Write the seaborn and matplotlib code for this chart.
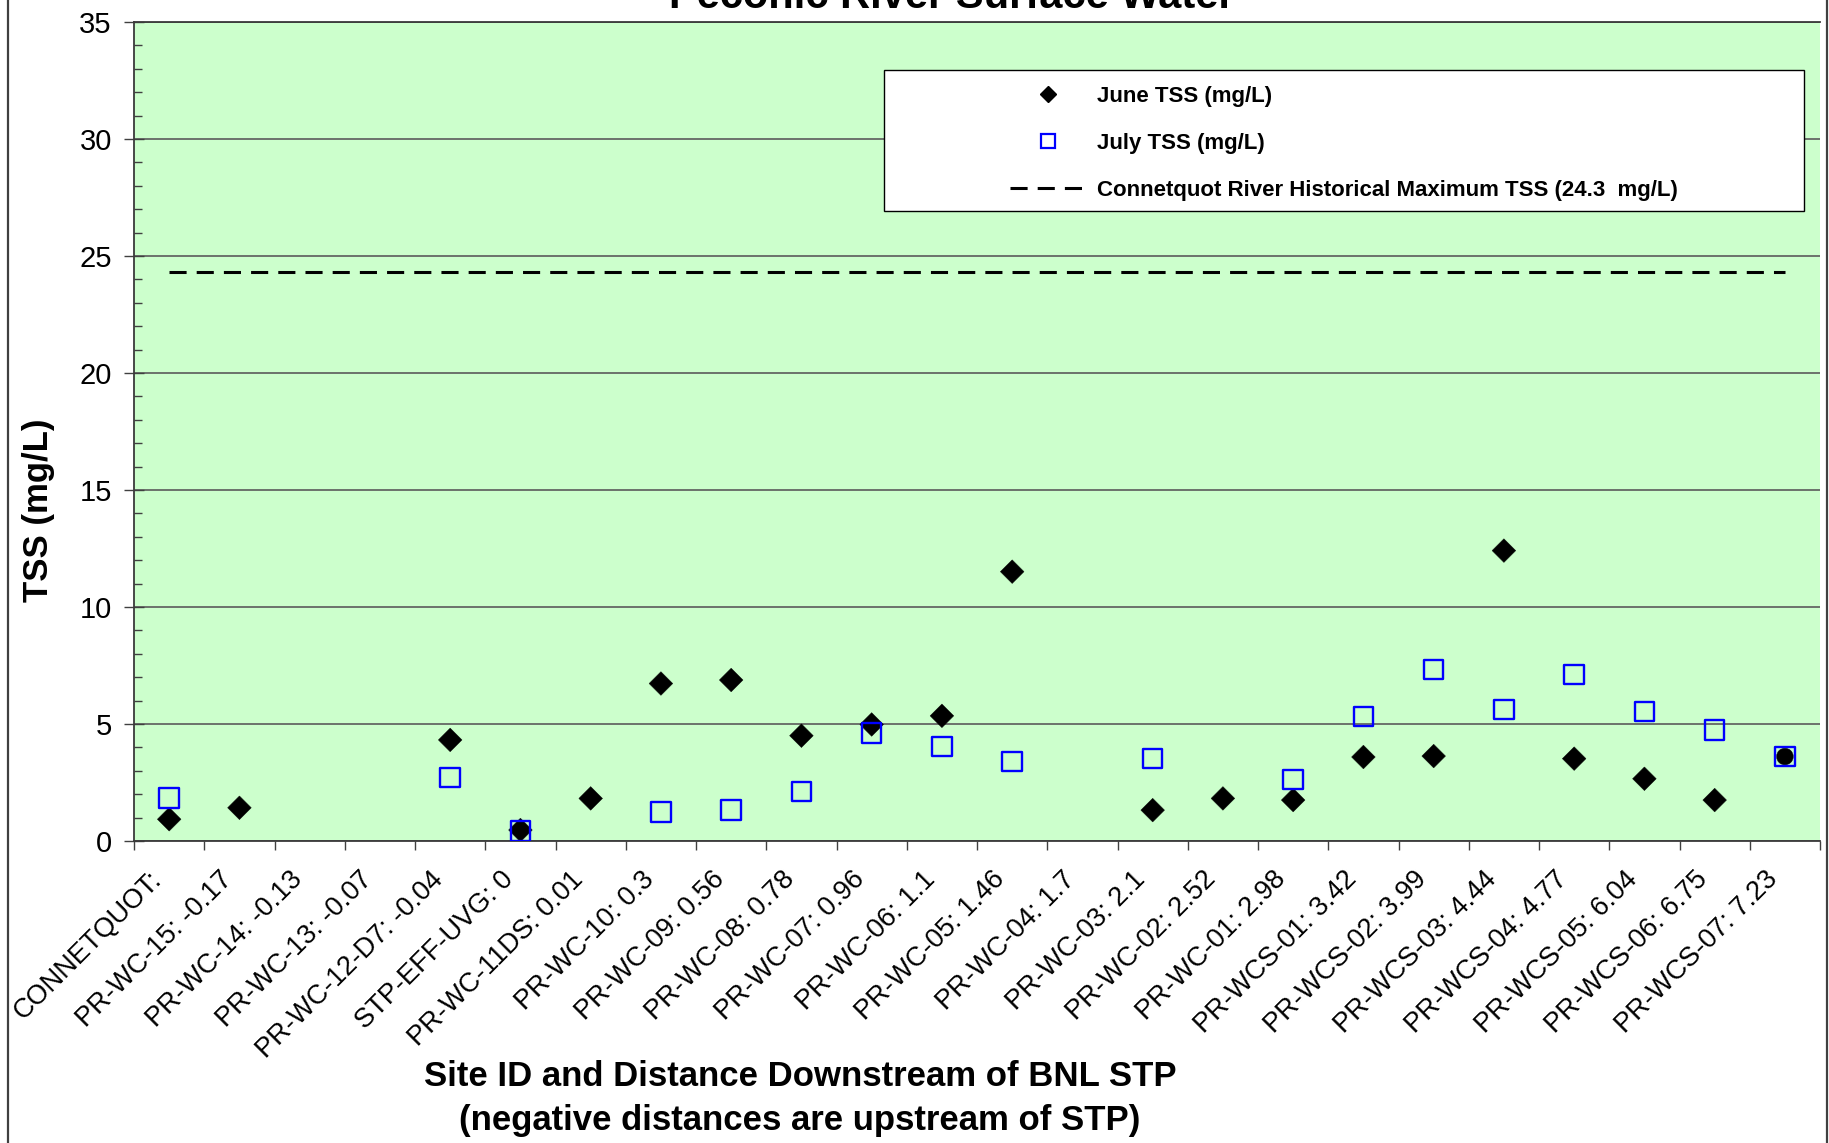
import numpy as np
import pandas as pd
import matplotlib
matplotlib.use("Agg")
import matplotlib.pyplot as plt
import matplotlib.transforms as mtransforms
from matplotlib.lines import Line2D
from matplotlib.patches import Rectangle
import seaborn as sns

# Valores
sites = [
    "CONNETQUOT:", "PR-WC-15: -0.17", "PR-WC-14: -0.13", "PR-WC-13: -0.07",
    "PR-WC-12-D7: -0.04", "STP-EFF-UVG: 0", "PR-WC-11DS: 0.01", "PR-WC-10: 0.3",
    "PR-WC-09: 0.56", "PR-WC-08: 0.78", "PR-WC-07: 0.96", "PR-WC-06: 1.1",
    "PR-WC-05: 1.46", "PR-WC-04: 1.7", "PR-WC-03: 2.1", "PR-WC-02: 2.52",
    "PR-WC-01: 2.98", "PR-WCS-01: 3.42", "PR-WCS-02: 3.99", "PR-WCS-03: 4.44",
    "PR-WCS-04: 4.77", "PR-WCS-05: 6.04", "PR-WCS-06: 6.75", "PR-WCS-07: 7.23",
]
june_tss = [0.93, 1.42, np.nan, np.nan, 4.32, 0.47, 1.82, 6.73, 6.88, 4.50, 4.98, 5.35,
            11.51, np.nan, 1.32, 1.82, 1.75, 3.59, 3.63, 12.41, 3.52, 2.66, 1.75, 3.61]
june_shape = ["D"] * 23 + ["o"]
july_tss = [1.84, np.nan, np.nan, np.nan, 2.72, 0.43, np.nan, 1.24, 1.32, 2.11, 4.61, 4.03,
            3.40, np.nan, 3.53, np.nan, 2.64, 5.31, 7.34, 5.63, 7.12, 5.53, 4.74, 3.62]
hist_max = [24.3] * len(sites)

df = pd.DataFrame({
    "pos": np.arange(len(sites)),
    "site": sites,
    "june": june_tss,
    "shape": june_shape,
    "july": july_tss,
    "hist": hist_max,
})

sns.set_theme(style="white")
plt.rcParams["font.family"] = ["Liberation Sans", "DejaVu Sans"]
plt.rcParams["text.color"] = "black"
plt.rcParams["axes.labelcolor"] = "black"

fig = plt.figure(figsize=(18.29, 11.43), dpi=100)
ax = fig.add_axes([0.0733, 0.2642, 0.9218, 0.7166])
ax.set_facecolor("#CCFFCC")

# Séries
sns.scatterplot(data=df, x="pos", y="june", style="shape", markers={"D": "D", "o": "o"},
                s=145, color="black", edgecolor="black", linewidth=0.3, legend=False,
                ax=ax, zorder=4)
sns.scatterplot(data=df, x="pos", y="july", marker="s", s=195, facecolors="none",
                edgecolor="#0000FF", linewidth=1.7, legend=False, ax=ax, zorder=5)
sns.lineplot(data=df, x="pos", y="hist", color="black", linewidth=2.2,
             linestyle=(0, (5.6, 3.3)), errorbar=None, ax=ax, zorder=3)

# Eixos
ax.set_xlim(-0.5, len(sites) - 0.5)
ax.set_ylim(0, 35)
ax.set_xticks(df["pos"])
ax.set_xticklabels(sites, rotation=45, ha="right", va="center", rotation_mode="anchor")
ax.set_xticks(np.arange(-0.5, len(sites), 1), minor=True)
ax.tick_params(axis="x", which="major", length=0, pad=25, labelsize=19.5, labelcolor="black")
ax.tick_params(axis="x", which="minor", direction="out", length=6.5, width=1.0, color="#404040", bottom=True)
offset = mtransforms.ScaledTranslation(-11 / 100, 0, fig.dpi_scale_trans)
for lab in ax.get_xticklabels():
    lab.set_transform(lab.get_transform() + offset)

ax.set_yticks(np.arange(0, 36, 5))
ax.set_yticks(np.arange(0, 36, 1), minor=True)
ax.tick_params(axis="y", which="major", direction="inout", length=14, width=1.0, pad=9,
               labelsize=21, color="#404040", labelcolor="black", left=True)
ax.tick_params(axis="y", which="minor", direction="in", length=6, width=1.0, color="#404040", left=True)

ax.yaxis.grid(True, which="major", color="#5a5a5a", linewidth=1.2)
ax.xaxis.grid(False)
ax.set_axisbelow(True)
for side in ["left", "top", "bottom"]:
    ax.spines[side].set_color("#3a3a3a")
    ax.spines[side].set_linewidth(1.3)
ax.spines["right"].set_visible(False)

ax.set_xlabel("Site ID and Distance Downstream of BNL STP\n(negative distances are upstream of STP)",
              fontsize=25, fontweight="bold", linespacing=1.45, color="black")
ax.xaxis.set_label_coords(0.395, -0.267)
ax.set_ylabel("TSS (mg/L)", fontsize=25, fontweight="bold", color="black")
ax.yaxis.set_label_coords(-0.047, 0.404)

fig.text(952 / 1829, 1 - 8 / 1143, "Peconic River Surface Water", ha="center", va="baseline",
         fontsize=30, fontweight="bold", color="black")

# Legenda
ax.add_patch(Rectangle((0.4448, 0.7692), 0.5457, 0.1722, transform=ax.transAxes,
                       facecolor="white", edgecolor="black", linewidth=1.0, zorder=6))
handles = [
    Line2D([], [], marker="D", ls="none", color="black", ms=8.5),
    Line2D([], [], marker="s", ls="none", mfc="none", mec="#0000FF", mew=1.6, ms=10),
    Line2D([], [], color="black", lw=2.2, ls=(0, (5.6, 3.3))),
]
labels = ["June TSS (mg/L)", "July TSS (mg/L)",
          "Connetquot River Historical Maximum TSS (24.3  mg/L)"]
leg = ax.legend(handles, labels, loc="center left", bbox_to_anchor=(0.5196, 0.8517),
                frameon=False, borderpad=0, borderaxespad=0, handlelength=3.4,
                handletextpad=0.5, labelspacing=1.17, prop={"size": 16, "weight": "bold"})
for t in leg.get_texts():
    t.set_color("black")
leg.set_zorder(7)

# Moldura do gráfico
fig.add_artist(Line2D([8 / 1829, 8 / 1829], [0, 1], transform=fig.transFigure, color="#404040", lw=1.6))
fig.add_artist(Line2D([1826.5 / 1829, 1826.5 / 1829], [0, 1], transform=fig.transFigure, color="#404040", lw=1.6))

fig.savefig("out.png", dpi=100)
